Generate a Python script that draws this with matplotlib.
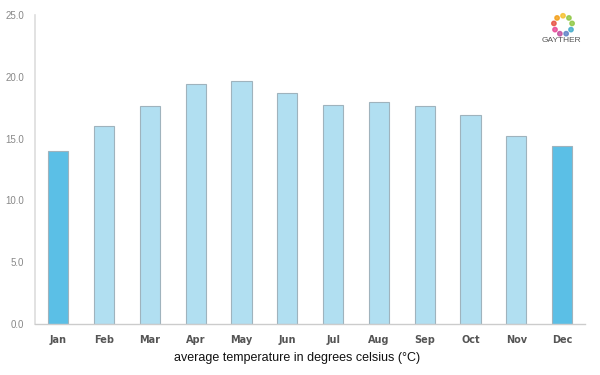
import matplotlib
matplotlib.use("Agg")
import matplotlib.pyplot as plt
import numpy as np

months = ["Jan", "Feb", "Mar", "Apr", "May", "Jun", "Jul", "Aug", "Sep", "Oct", "Nov", "Dec"]
temps = [14.0, 16.0, 17.6, 19.4, 19.7, 18.7, 17.7, 18.0, 17.6, 16.9, 15.2, 14.4]
highlight = [True, False, False, False, False, False, False, False, False, False, False, True]
yticks = [0, 5, 10, 15, 20, 25]

fig = plt.figure(figsize=(6, 3.75), dpi=100)
ax = fig.add_axes([0.059, 0.136, 0.916, 0.824])

x = np.arange(len(months))
colors = ["#5bbfe6" if h else "#b1dff1" for h in highlight]
ax.bar(x, temps, width=0.44, color=colors, edgecolor="#9fb3bd", linewidth=0.8, zorder=2)

ax.set_xlim(-0.5, len(months) - 0.5)
ax.set_ylim(0, 25)
ax.set_yticks(yticks)
ax.set_yticklabels([f"{v:.1f}" for v in yticks], color="#888888", fontsize=7, family="Liberation Sans")
ax.set_xticks(x)
ax.set_xticklabels(months, color="#555555", fontsize=7, fontweight="bold")
ax.tick_params(axis="both", length=0)
ax.tick_params(axis="y", pad=8)
ax.tick_params(axis="x", pad=8)
for s in ["top", "right"]:
    ax.spines[s].set_visible(False)
ax.spines["left"].set_color("#dddddd")
ax.spines["bottom"].set_color("#cccccc")
ax.spines["left"].set_linewidth(1.2)
ax.spines["bottom"].set_linewidth(1.0)

ax.set_xlabel("average temperature in degrees celsius (°C)", fontsize=9, color="#111111",
              family="Liberation Sans")
ax.xaxis.set_label_coords((297 - 35.5) / 549.5, (324 - 358) / 309, transform=ax.transAxes)
ax.xaxis.label.set_va("center")

# logo
lax = fig.add_axes([563 / 600 - 0.03, 1 - 25 / 375 - 0.048, 0.06, 0.096])
lax.set_xlim(-1.95, 1.95)
lax.set_ylim(-1.95, 1.95)
lax.set_aspect("equal")
lax.axis("off")
logo_cols = ["#f5c02a", "#8cc63f", "#8cc63f", "#3fa9c9", "#5b7fc5", "#c04a9b", "#e84393", "#e74c3c", "#f39c12"]
ang = np.linspace(np.pi / 2, np.pi / 2 - 2 * np.pi, len(logo_cols), endpoint=False)
lax.scatter(np.cos(ang), np.sin(ang), s=10, c=logo_cols, marker="o", alpha=0.8)
fig.text(561 / 600, 1 - 41 / 375, "GAYTHER", ha="center", va="center", fontsize=6,
         color="#555555", family="Liberation Sans")

fig.savefig("out.png", dpi=100)
